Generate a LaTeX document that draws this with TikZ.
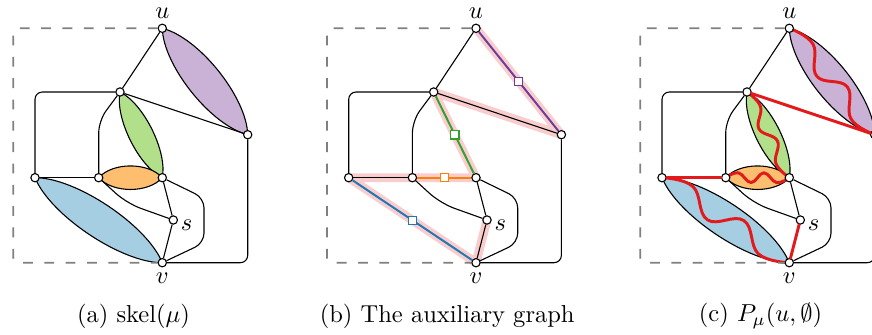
\documentclass[tikz,border=0pt]{standalone}
\usepackage{xcolor}
\usepackage{tikz}
\usetikzlibrary{calc,backgrounds}
\definecolor{lblue}{HTML}{A6CEE3}
\definecolor{dblue}{HTML}{1F78B4}
\definecolor{lgreen}{HTML}{B2DF8A}
\definecolor{dgreen}{HTML}{33A02C}
\definecolor{lorange}{HTML}{FDBF6F}
\definecolor{dorange}{HTML}{FF7F00}
\definecolor{lpurple}{HTML}{CAB2D6}
\definecolor{dpurple}{HTML}{6A3D9A}
\definecolor{pathred}{HTML}{E31A1C}
\definecolor{hlpink}{HTML}{F9CDCE}

% lens between two poles
\newcommand{\blob}[4]{%
  \filldraw[blob, fill=#4] (#1.center)
    .. controls ($(#1.center)!0.22!(#2.center)!#3!90:(#2.center)$)
    and ($(#1.center)!0.78!(#2.center)!#3!90:(#2.center)$) .. (#2.center)
    .. controls ($(#1.center)!0.78!(#2.center)!#3!-90:(#2.center)$)
    and ($(#1.center)!0.22!(#2.center)!#3!-90:(#2.center)$) .. (#1.center) -- cycle;}
% wavy path through a lens
\newcommand{\wiggle}[3]{%
  \draw[redpath] plot[smooth, tension=0.7] coordinates {(#1.center)
    ($(#1.center)!0.2!(#2.center)!#3!90:(#2.center)$)
    ($(#1.center)!0.4!(#2.center)!#3!-90:(#2.center)$)
    ($(#1.center)!0.6!(#2.center)!#3!90:(#2.center)$)
    ($(#1.center)!0.8!(#2.center)!#3!-90:(#2.center)$)
    (#2.center)};}

\begin{document}
\begin{tikzpicture}[
  x=0.408pt, y=-0.408pt,
  vtx/.style={circle, draw, fill=white, inner sep=0pt, minimum size=3.4pt, line width=0.45pt},
  link/.style={line width=0.45pt, rounded corners=3pt},
  blob/.style={draw=black, line width=0.45pt, line join=round},
  dashbox/.style={draw=black!50, line width=0.75pt, dash pattern=on 4pt off 4.7pt, rounded corners=2pt},
  hilite/.style={draw=hlpink, line width=3.6pt, line cap=round, line join=round},
  colored/.style={line width=0.8pt},
  sq/.style={rectangle, draw, fill=white, inner sep=0pt, minimum size=3.3pt, line width=0.5pt},
  redpath/.style={draw=pathred, line width=1.2pt, line cap=round, line join=round},
  lbl/.style={font=\normalsize},
  subcap/.style={font=\normalsize}
]
\useasboundingbox (0,0) rectangle (872,335);

% (a) skeleton
\node[vtx, label={[lbl, inner sep=2pt]above:$u$}] (u1) at (162.3,28.3) {};
\node[vtx] (t1) at (120,92) {};
\node[vtx] (r1) at (247.7,134.7) {};
\node[vtx] (l1) at (35,177.7) {};
\node[vtx] (m1) at (98.7,177.7) {};
\node[vtx] (c1) at (162.3,177.7) {};
\node[vtx, label={[lbl, inner sep=1pt, yshift=-2pt]right:$s$}] (s1) at (173.3,220) {};
\node[vtx, label={[lbl, inner sep=2pt]below:$v$}] (v1) at (162.3,262.7) {};
\node[subcap] (capa) at (133.5,316) {(a) skel($\mu$)};

\begin{scope}[on background layer]
\blob{u1}{r1}{9.3pt}{lpurple}
\blob{t1}{c1}{6.6pt}{lgreen}
\blob{m1}{c1}{6.4pt}{lorange}
\blob{l1}{v1}{9.3pt}{lblue}
\end{scope}

\draw[dashbox] (u1) -| (13.3,262.7) -- (v1);
\draw[link] (u1) -- (t1);
\draw[link] (t1) -- (r1);
\draw[link] (t1) -| (l1);
\draw[link, rounded corners=5pt] (t1) -- ($(m1)+(0,-57)$) -- (m1);
\draw[link] (l1) -- (m1);
\draw[link, rounded corners=6pt] (m1) -- ($(m1)+(28,25.6)$) -- (s1);
\draw[link] (c1) -- (s1);
\draw[link] (s1) -- (v1);
\draw[link, rounded corners=4pt] (c1) -- ($(c1)+(41.7,20.3)$) -- ($(v1)+(41.7,-19.7)$) -- (v1);
\draw[link] (r1) |- (v1);

% (b) auxiliary graph
\begin{scope}[shift={(313.7,0)}]
\node[vtx, label={[lbl, inner sep=2pt]above:$u$}] (u2) at (162.3,28.3) {};
\node[vtx] (t2) at (120,92) {};
\node[vtx] (r2) at (247.7,134.7) {};
\node[vtx] (l2) at (35,177.7) {};
\node[vtx] (m2) at (98.7,177.7) {};
\node[vtx] (c2) at (162.3,177.7) {};
\node[vtx, label={[lbl, inner sep=1pt, yshift=-2pt]right:$s$}] (s2) at (173.3,220) {};
\node[vtx, label={[lbl, inner sep=2pt]below:$v$}] (v2) at (162.3,262.7) {};
\node[subcap] (capb) at (133.5,316) {(b) The auxiliary graph};

\begin{scope}[on background layer]
\draw[hilite] (u2.center) -- (r2.center) -- (t2.center) -- (c2.center)
  -- (m2.center) -- (l2.center) -- (v2.center) -- (s2.center);
\end{scope}

\draw[dashbox] (u2) -| (13.3,262.7) -- (v2);
\draw[link] (u2) -- (t2);
\draw[link] (t2) -- (r2);
\draw[link] (t2) -| (l2);
\draw[link, rounded corners=5pt] (t2) -- ($(m2)+(0,-57)$) -- (m2);
\draw[link] (l2) -- (m2);
\draw[link, rounded corners=6pt] (m2) -- ($(m2)+(28,25.6)$) -- (s2);
\draw[link] (c2) -- (s2);
\draw[link] (s2) -- (v2);
\draw[link, rounded corners=4pt] (c2) -- ($(c2)+(41.7,20.3)$) -- ($(v2)+(41.7,-19.7)$) -- (v2);
\draw[link] (r2) |- (v2);

\draw[colored, dpurple] (u2) -- node[sq, draw=dpurple] {} (r2);
\draw[colored, dgreen] (t2) -- node[sq, draw=dgreen] {} (c2);
\draw[colored, dorange] (m2) -- node[sq, draw=dorange] {} (c2);
\draw[colored, dblue] (l2) -- node[sq, draw=dblue] {} (v2);
\end{scope}

% (c) the path P
\begin{scope}[shift={(627,0)}]
\node[vtx, label={[lbl, inner sep=2pt]above:$u$}] (u3) at (162.3,28.3) {};
\node[vtx] (t3) at (120,92) {};
\node[vtx] (r3) at (247.7,134.7) {};
\node[vtx] (l3) at (35,177.7) {};
\node[vtx] (m3) at (98.7,177.7) {};
\node[vtx] (c3) at (162.3,177.7) {};
\node[vtx, label={[lbl, inner sep=1pt, yshift=-2pt]right:$s$}] (s3) at (173.3,220) {};
\node[vtx, label={[lbl, inner sep=2pt]below:$v$}] (v3) at (162.3,262.7) {};
\node[subcap] (capc) at (133.5,316) {(c) $P_\mu(u,\emptyset)$};

\begin{scope}[on background layer]
\blob{u3}{r3}{9.3pt}{lpurple}
\blob{t3}{c3}{6.6pt}{lgreen}
\blob{m3}{c3}{6.4pt}{lorange}
\blob{l3}{v3}{9.3pt}{lblue}
\wiggle{r3}{u3}{3.5pt}
\wiggle{c3}{t3}{2.3pt}
\wiggle{m3}{c3}{2pt}
\wiggle{v3}{l3}{4pt}
\end{scope}

\draw[dashbox] (u3) -| (13.3,262.7) -- (v3);
\draw[link] (u3) -- (t3);
\draw[link] (t3) -| (l3);
\draw[link, rounded corners=5pt] (t3) -- ($(m3)+(0,-57)$) -- (m3);
\draw[link, rounded corners=6pt] (m3) -- ($(m3)+(28,25.6)$) -- (s3);
\draw[link] (c3) -- (s3);
\draw[link, rounded corners=4pt] (c3) -- ($(c3)+(41.7,20.3)$) -- ($(v3)+(41.7,-19.7)$) -- (v3);
\draw[link] (r3) |- (v3);

\draw[redpath] (t3) -- (r3);
\draw[redpath] (l3) -- (m3);
\draw[redpath] (s3) -- (v3);
\end{scope}
\end{tikzpicture}
\end{document}
